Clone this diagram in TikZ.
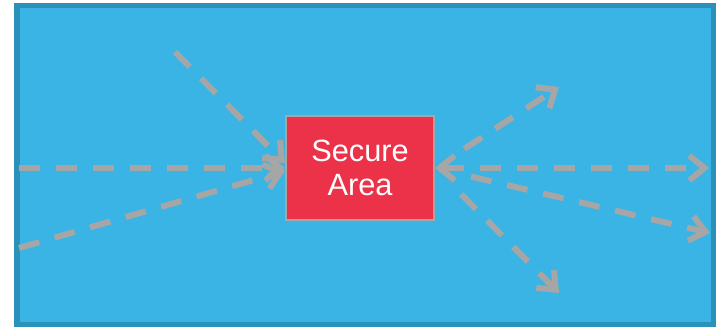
\documentclass[tikz,border=0pt]{standalone}
\usepackage{fontspec}
\setmainfont{Liberation Sans}
\usetikzlibrary{arrows.meta}
\definecolor{skyfill}{HTML}{3AB4E5}
\definecolor{skyedge}{HTML}{2A92B8}
\definecolor{securered}{HTML}{EC3249}
\definecolor{flowgray}{HTML}{A6A6A6}
\begin{document}
\begin{tikzpicture}[
                flow/.style={draw=flowgray, line width=3.4pt, dash pattern=on 0.42cm off 0.32cm,
                    -{Straight Barb[length=0.3cm, width=0.5cm]}},
                securebox/.style={draw=flowgray, line width=1.2pt, fill=securered,
                    minimum width=2.96cm, minimum height=2.08cm, text=white,
                    align=center, font=\fontsize{17.5}{19.5}\selectfont}
            ]

                % Fix the page size
                \useasboundingbox (0,0) rectangle (14.38,6.56);

                % The outer blue area
                \draw[skyedge, fill=skyfill, line width=0.1cm] (0.34,0.06) rectangle (14.26,6.44);

                % The secure area in the middle
                \node[securebox] (secure) at (7.2,3.2) {Secure\\Area};

                % Free ends of the flows
                \coordinate (intop) at (3.5,5.52);
                \coordinate (inmid) at (0.38,3.2);
                \coordinate (inlow) at (0.38,1.6);
                \coordinate (outup) at (11.18,4.82);
                \coordinate (outmid) at (14.18,3.2);
                \coordinate (outlow) at (14.2,1.9);
                \coordinate (outdown) at (11.18,0.7);

                % Flows coming in from the left
                \draw[flow] (intop) -- ([yshift=0.1cm]secure.west);
                \draw[flow] (inmid) -- (secure.west);
                \draw[flow] (inlow) -- ([yshift=-0.06cm]secure.west);

                % Flows going out to the right
                \draw[flow, {Straight Barb[length=0.3cm, width=0.5cm]}-{Straight Barb[length=0.3cm, width=0.5cm]}]
                    (secure.east) -- (outmid);
                \draw[flow, shorten <=0.7cm] (secure.east) -- (outup);
                \draw[flow, shorten <=0.74cm] (secure.east) -- (outlow);
                \draw[flow, shorten <=0.74cm] (secure.east) -- (outdown);

            \end{tikzpicture}
\end{document}
